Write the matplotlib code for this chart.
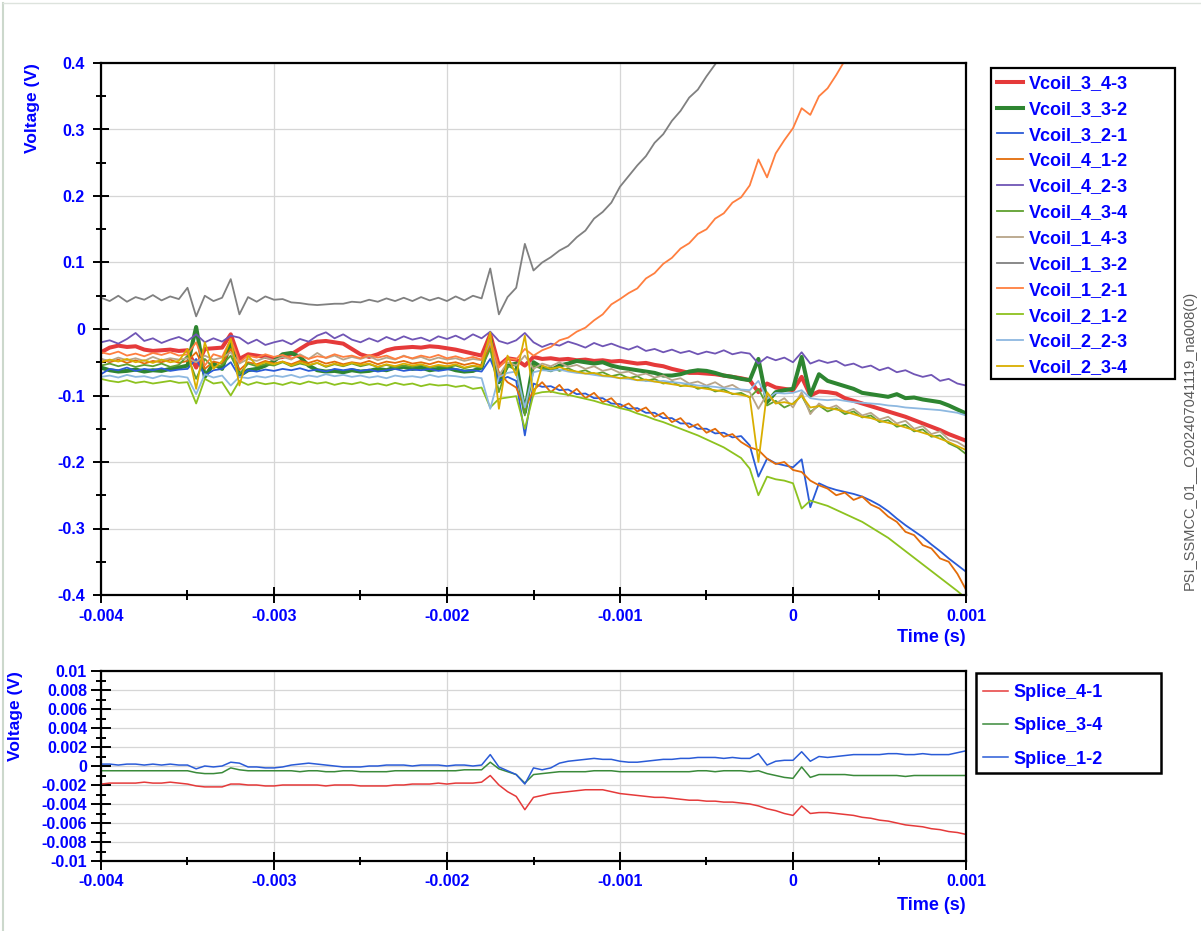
import numpy as np
import matplotlib
matplotlib.use("Agg")
import matplotlib.pyplot as plt
from matplotlib.ticker import MultipleLocator, FuncFormatter
from matplotlib.patches import Rectangle
from matplotlib.lines import Line2D

plt.rcParams['font.family'] = ['Liberation Sans', 'DejaVu Sans']
plt.rcParams['font.weight'] = 'bold'

# ---------------- data ----------------
T_START, T_END = -0.004, 0.001   # seconds, evenly sampled

# top panel, values in mV
vcoil_3_4_3 = [-35,-28,-25,-27,-26,-31,-33,-32,-31,-33,
               -32,-58,-30,-29,-28,-8,-45,-38,-40,-42,
               -44,-42,-38,-30,-22,-19,-18,-20,-22,-30,
               -38,-42,-38,-32,-29,-28,-27,-28,-26,-27,
               -29,-31,-34,-37,-40,-8,-55,-44,-46,-55,
               -42,-45,-44,-46,-45,-47,-46,-48,-47,-49,
               -48,-50,-52,-51,-54,-56,-60,-63,-66,-66,
               -67,-68,-70,-72,-74,-77,-95,-82,-88,-90,
               -92,-72,-100,-94,-95,-97,-104,-108,-112,-116,
               -120,-124,-128,-132,-137,-142,-147,-152,-158,-163,
               -168]
vcoil_3_3_2 = [-58,-62,-64,-63,-61,-64,-62,-63,-60,-58,
               -55,3,-72,-52,-60,-20,-70,-62,-60,-55,
               -48,-38,-36,-42,-55,-62,-64,-63,-65,-62,
               -64,-63,-60,-62,-58,-57,-60,-58,-62,-60,
               -58,-62,-64,-63,-58,-15,-80,-55,-52,-125,
               -50,-58,-62,-55,-52,-48,-50,-52,-50,-55,
               -58,-60,-62,-64,-66,-70,-70,-68,-64,-62,
               -63,-66,-70,-72,-75,-77,-45,-110,-95,-92,
               -90,-42,-100,-68,-78,-82,-86,-90,-96,-98,
               -100,-102,-98,-104,-103,-106,-108,-110,-115,-121,
               -127]
vcoil_3_2_1 = [-68,-60,-62,-58,-63,-60,-62,-59,-63,-61,
               -60,-45,-70,-62,-60,-50,-72,-62,-64,-61,
               -63,-60,-62,-59,-63,-61,-64,-60,-62,-60,
               -63,-61,-64,-62,-60,-63,-61,-62,-60,-63,
               -61,-60,-63,-62,-64,-45,-78,-72,-78,-160,
               -82,-87,-86,-92,-91,-98,-97,-104,-104,-112,
               -113,-120,-119,-126,-126,-134,-134,-142,-142,-150,
               -150,-157,-156,-163,-161,-175,-222,-195,-202,-205,
               -208,-196,-268,-232,-238,-242,-245,-248,-252,-258,
               -265,-274,-285,-295,-304,-313,-324,-334,-345,-355,
               -365]
vcoil_4_1_2 = [-45,-50,-46,-51,-47,-52,-48,-50,-46,-51,
               -48,-35,-60,-49,-52,-30,-62,-50,-53,-48,
               -52,-49,-53,-48,-51,-47,-52,-49,-53,-50,
               -52,-48,-53,-49,-51,-48,-52,-50,-53,-49,
               -52,-50,-54,-51,-55,-25,-65,-80,-88,-120,
               -92,-80,-95,-84,-100,-90,-104,-96,-110,-104,
               -118,-112,-124,-118,-132,-126,-140,-134,-148,-143,
               -156,-150,-162,-158,-170,-178,-182,-195,-203,-200,
               -212,-215,-228,-235,-240,-250,-246,-257,-252,-264,
               -270,-282,-290,-305,-310,-325,-330,-345,-350,-368,
               -392]
vcoil_4_2_3 = [-20,-17,-22,-15,-6,-18,-14,-21,-16,-12,
               -18,-8,-20,-14,-19,-10,-13,-22,-16,-24,
               -20,-17,-23,-15,-19,-10,-5,-14,-8,-16,
               -20,-14,-19,-12,-17,-11,-16,-13,-18,-11,
               -15,-10,-16,-8,-14,-4,-18,-22,-17,-6,
               -20,-27,-22,-25,-19,-23,-28,-21,-26,-22,
               -27,-31,-26,-33,-30,-35,-31,-36,-33,-38,
               -34,-37,-32,-38,-35,-37,-52,-42,-47,-43,
               -50,-35,-52,-47,-51,-48,-55,-52,-58,-55,
               -62,-58,-65,-62,-68,-72,-69,-78,-75,-82,
               -85]
vcoil_4_3_4 = [-55,-52,-56,-53,-57,-54,-56,-52,-57,-54,
               -40,-75,-45,-58,-54,-40,-68,-52,-56,-53,
               -55,-50,-56,-52,-55,-51,-57,-53,-56,-52,
               -56,-53,-57,-54,-58,-55,-57,-54,-58,-56,
               -57,-55,-59,-56,-58,-30,-95,-55,-62,-130,
               -55,-60,-57,-63,-59,-65,-62,-68,-65,-71,
               -68,-74,-71,-78,-75,-82,-79,-86,-83,-90,
               -87,-94,-91,-98,-96,-103,-90,-115,-108,-118,
               -112,-100,-125,-115,-124,-119,-128,-124,-133,-130,
               -140,-137,-147,-144,-154,-151,-162,-160,-172,-178,
               -188]
vcoil_1_4_3 = [-45,-48,-43,-47,-44,-48,-42,-47,-44,-46,
               -44,-50,-40,-46,-43,-35,-52,-45,-48,-43,
               -47,-42,-46,-38,-45,-36,-44,-40,-46,-42,
               -45,-41,-47,-43,-46,-40,-45,-42,-47,-43,
               -46,-44,-48,-45,-47,-20,-70,-50,-55,-40,
               -60,-52,-56,-50,-57,-54,-60,-56,-63,-60,
               -66,-64,-70,-67,-73,-70,-77,-74,-82,-79,
               -85,-80,-88,-84,-92,-95,-120,-98,-112,-104,
               -118,-95,-128,-112,-120,-115,-125,-120,-130,-126,
               -136,-132,-142,-138,-150,-146,-158,-154,-166,-170,
               -178]
vcoil_1_3_2 = [47,42,50,41,48,44,51,43,49,45,
               62,19,50,42,47,75,22,48,41,49,
               44,45,40,39,37,36,37,38,38,41,
               40,44,41,46,42,47,42,48,43,47,
               42,49,43,50,46,91,22,48,62,128,
               88,100,108,118,125,138,148,166,176,190,
               214,230,246,260,280,293,313,328,348,360,
               380,398,418,None,None,None,None,None,None,None,
               None,None,None,None,None,None,None,None,None,None,
               None,None,None,None,None,None,None,None,None,None,
               None]
vcoil_1_2_1 = [-35,-38,-34,-40,-37,-41,-36,-39,-35,-40,
               -38,-20,-55,-38,-42,-15,-50,-40,-43,-38,
               -42,-39,-44,-40,-45,-41,-43,-38,-42,-40,
               -44,-39,-43,-40,-45,-41,-44,-40,-43,-39,
               -44,-41,-45,-42,-46,-15,-58,-44,-46,-30,
               -40,-32,-27,-17,-13,-4,2,13,22,37,
               45,54,61,76,84,98,107,121,129,143,
               150,166,174,190,198,216,255,228,264,284,
               302,332,322,350,362,382,404,425,None,None,
               None,None,None,None,None,None,None,None,None,None,
               None]
vcoil_2_1_2 = [-75,-78,-80,-77,-81,-79,-82,-80,-78,-81,
               -80,-112,-75,-82,-80,-100,-78,-84,-80,-83,
               -81,-84,-80,-83,-79,-82,-80,-84,-81,-83,
               -80,-84,-82,-85,-81,-84,-82,-86,-83,-85,
               -84,-87,-85,-90,-88,-118,-105,-103,-101,-150,
               -98,-95,-94,-97,-99,-102,-105,-108,-112,-115,
               -119,-122,-127,-131,-136,-140,-145,-150,-155,-160,
               -166,-172,-178,-186,-194,-210,-250,-222,-226,-228,
               -232,-270,-258,-262,-266,-272,-278,-284,-290,-298,
               -306,-314,-324,-334,-344,-354,-364,-374,-384,-394,
               -405]
vcoil_2_2_3 = [-72,-70,-73,-69,-72,-71,-74,-70,-72,-71,
               -73,-98,-68,-73,-70,-85,-72,-74,-71,-73,
               -70,-72,-69,-73,-70,-72,-68,-71,-69,-72,
               -70,-73,-71,-74,-70,-72,-71,-73,-69,-72,
               -70,-71,-73,-72,-74,-120,-72,-66,-64,-118,
               -65,-62,-63,-61,-64,-66,-67,-69,-71,-72,
               -74,-75,-77,-78,-79,-78,-80,-81,-83,-85,
               -86,-87,-89,-90,-91,-92,-78,-105,-96,-97,
               -96,-92,-104,-106,-107,-106,-108,-110,-111,-112,
               -113,-115,-116,-118,-119,-120,-121,-122,-124,-126,
               -130]
vcoil_2_3_4 = [-50,-46,-49,-45,-50,-47,-51,-46,-50,-48,
               -30,-90,-20,-60,-48,-15,-85,-40,-55,-50,
               -53,-49,-55,-50,-54,-51,-56,-52,-55,-51,
               -54,-52,-57,-53,-56,-52,-55,-53,-57,-54,
               -56,-53,-58,-55,-57,-5,-120,-40,-70,-10,
               -100,-55,-60,-57,-62,-64,-67,-66,-70,-71,
               -74,-73,-77,-76,-79,-81,-83,-85,-86,-88,
               -90,-92,-94,-97,-99,-102,-200,-95,-112,-110,
               -113,-100,-118,-116,-119,-121,-124,-128,-132,-134,
               -138,-141,-144,-148,-152,-156,-160,-165,-170,-176,
               -182]

# bottom panel, values in 0.1 mV
splice_4_1 = [-19,-18,-18,-18,-18,-17,-18,-18,-17,-18,
              -19,-21,-22,-22,-22,-19,-19,-20,-20,-21,
              -21,-20,-20,-20,-20,-20,-21,-20,-20,-20,
              -21,-21,-21,-21,-20,-20,-19,-19,-19,-18,
              -19,-18,-18,-18,-17,-10,-20,-27,-32,-46,
              -33,-31,-29,-28,-27,-26,-25,-25,-25,-27,
              -29,-30,-31,-32,-33,-33,-34,-35,-36,-36,
              -37,-37,-38,-38,-39,-40,-42,-45,-47,-50,
              -52,-42,-50,-49,-49,-50,-51,-52,-54,-55,
              -57,-58,-60,-62,-63,-64,-66,-67,-69,-70,
              -72]
splice_3_4 = [-5,-5,-5,-5,-5,-5,-5,-5,-5,-5,
              -5,-7,-8,-8,-7,-2,-4,-5,-5,-5,
              -5,-5,-5,-6,-5,-5,-6,-6,-5,-5,
              -6,-6,-6,-6,-5,-5,-5,-5,-5,-5,
              -5,-5,-4,-4,-4,4,-3,-6,-9,-18,
              -9,-8,-7,-6,-6,-6,-6,-5,-5,-5,
              -6,-6,-6,-6,-6,-6,-6,-6,-6,-5,
              -5,-6,-5,-5,-5,-6,-5,-8,-10,-12,
              -13,-1,-12,-9,-9,-9,-9,-10,-10,-10,
              -10,-10,-10,-11,-10,-10,-10,-10,-10,-10,
              -10]
splice_1_2 = [2,2,1,2,2,1,2,1,2,1,
              1,-3,0,-1,0,4,3,-1,-1,-2,
              -2,-1,1,2,3,2,1,0,-1,-1,
              -1,0,0,1,1,1,0,1,1,1,
              0,1,1,0,1,12,-1,-5,-9,-19,
              -2,-4,-2,3,5,6,7,8,7,7,
              5,4,4,5,6,7,7,8,8,9,
              9,9,8,9,8,8,13,1,5,6,
              6,15,5,10,9,10,11,12,12,12,
              12,13,13,12,12,13,12,12,12,14,
              16]

top_names = ["Vcoil_3_4-3", "Vcoil_3_3-2", "Vcoil_3_2-1", "Vcoil_4_1-2",
             "Vcoil_4_2-3", "Vcoil_4_3-4", "Vcoil_1_4-3", "Vcoil_1_3-2",
             "Vcoil_1_2-1", "Vcoil_2_1-2", "Vcoil_2_2-3", "Vcoil_2_3-4"]
top_values = [vcoil_3_4_3, vcoil_3_3_2, vcoil_3_2_1, vcoil_4_1_2,
              vcoil_4_2_3, vcoil_4_3_4, vcoil_1_4_3, vcoil_1_3_2,
              vcoil_1_2_1, vcoil_2_1_2, vcoil_2_2_3, vcoil_2_3_4]
bottom_names = ["Splice_4-1", "Splice_3-4", "Splice_1-2"]
bottom_values = [splice_4_1, splice_3_4, splice_1_2]

top_colors = ["#E53A3A", "#2E8531", "#2A5BD7", "#E36C0A",
              "#7055B5", "#5FA02F", "#B8A589", "#808080",
              "#FF7F3F", "#8DC21F", "#8DB8E0", "#D9AE00"]
top_widths = [2.9, 2.9, 1.3, 1.3, 1.3, 1.3, 1.3, 1.3, 1.3, 1.3, 1.3, 1.3]
bottom_colors = ["#E53A3A", "#3A8A3A", "#2A5BD7"]

BLUE = "#0000FF"
W, H = 1201, 931

fig = plt.figure(figsize=(W / 100, H / 100), dpi=100)
ax1 = fig.add_axes([101 / W, 1 - 595 / H, 865 / W, 532 / H])
ax2 = fig.add_axes([101 / W, 1 - 861 / H, 865 / W, 190 / H])

for name, vals, c, lw in zip(top_names, top_values, top_colors, top_widths):
    v = np.array(vals, dtype=float) / 1000.0
    t = np.linspace(T_START, T_END, len(v))
    ax1.plot(t, v, color=c, lw=lw, label=name)

for name, vals, c in zip(bottom_names, bottom_values, bottom_colors):
    v = np.array(vals, dtype=float) / 10000.0
    t = np.linspace(T_START, T_END, len(v))
    ax2.plot(t, v, color=c, lw=1.1, label=name)


def fmt(v, pos):
    v = round(v, 6) + 0.0
    if v == 0:
        return "0"
    return "%g" % v


ax1.set_xlim(T_START, T_END)
ax1.set_ylim(-0.4, 0.4)
ax2.set_xlim(T_START, T_END)
ax2.set_ylim(-0.01, 0.01)

ax1.xaxis.set_major_locator(MultipleLocator(0.001))
ax1.xaxis.set_minor_locator(MultipleLocator(0.0005))
ax1.yaxis.set_major_locator(MultipleLocator(0.1))
ax1.yaxis.set_minor_locator(MultipleLocator(0.05))
ax2.xaxis.set_major_locator(MultipleLocator(0.001))
ax2.xaxis.set_minor_locator(MultipleLocator(0.0005))
ax2.yaxis.set_major_locator(MultipleLocator(0.002))
ax2.yaxis.set_minor_locator(MultipleLocator(0.001))

for ax in (ax1, ax2):
    ax.xaxis.set_major_formatter(FuncFormatter(fmt))
    ax.yaxis.set_major_formatter(FuncFormatter(fmt))
    ax.grid(True, which='major', color='#D6D6D6', lw=0.9)
    ax.set_axisbelow(True)
    for s in ax.spines.values():
        s.set_linewidth(1.6)
        s.set_color('black')
    ax.tick_params(which='both', direction='inout', width=1.4, colors='black',
                   labelcolor=BLUE, labelsize=11.5)

ax1.tick_params(axis='x', which='major', length=11.5, pad=4)
ax1.tick_params(axis='x', which='minor', length=6.5)
ax1.tick_params(axis='y', which='major', length=11, pad=6)
ax1.tick_params(axis='y', which='minor', length=7)
ax2.tick_params(axis='x', which='major', length=13, pad=3)
ax2.tick_params(axis='x', which='minor', length=6)
ax2.tick_params(axis='y', which='major', length=15, pad=2.5)
ax2.tick_params(axis='y', which='minor', length=7)

# axis titles
fig.text(32 / W, 1 - 63 / H, "Voltage (V)", rotation=90, ha='center', va='top',
         color=BLUE, fontsize=12.5, fontweight='bold')
fig.text(16 / W, 1 - 671 / H, "Voltage (V)", rotation=90, ha='center', va='top',
         color=BLUE, fontsize=12.5, fontweight='bold')
fig.text(966 / W, 1 - 638 / H, "Time (s)", ha='right', va='center',
         color=BLUE, fontsize=13, fontweight='bold')
fig.text(966 / W, 1 - 905 / H, "Time (s)", ha='right', va='center',
         color=BLUE, fontsize=13, fontweight='bold')

# side annotation
fig.text(1190 / W, 1 - 440 / H, "PSI_SSMCC_01__O202407041119_na008(0)",
         rotation=90, ha='center', va='center', color='#5A5A5A',
         fontsize=10.5, fontweight='normal')

# legends (frames drawn separately to match the boxed layout)
h1, l1 = ax1.get_legend_handles_labels()
fig.legend(h1, l1, loc='upper left', bbox_to_anchor=(997 / W, 1 - 75 / H),
           frameon=False, borderpad=0, borderaxespad=0, labelspacing=0.49,
           handlelength=1.45, handletextpad=0.3,
           prop={'weight': 'bold', 'size': 13}, labelcolor=BLUE)
fig.add_artist(Rectangle((991 / W, 1 - 379 / H), 184 / W, 311 / H,
                         transform=fig.transFigure, fill=False,
                         ec='black', lw=1.6))

h2, l2 = ax2.get_legend_handles_labels()
fig.legend(h2, l2, loc='upper left', bbox_to_anchor=(983 / W, 1 - 684 / H),
           frameon=False, borderpad=0, borderaxespad=0, labelspacing=0.9,
           handlelength=1.4, handletextpad=0.3,
           prop={'weight': 'bold', 'size': 13}, labelcolor=BLUE)
fig.add_artist(Rectangle((976 / W, 1 - 773 / H), 185 / W, 100 / H,
                         transform=fig.transFigure, fill=False,
                         ec='black', lw=1.8))

# faint outer frame
fig.add_artist(Line2D([3 / W, 3 / W], [0, 1 - 3 / H], transform=fig.transFigure,
                      color='#CCD8CC', lw=1.5))
fig.add_artist(Line2D([3 / W, 1], [1 - 3 / H, 1 - 3 / H], transform=fig.transFigure,
                      color='#DDE3DD', lw=1.0))

fig.savefig("out.png", dpi=100)
